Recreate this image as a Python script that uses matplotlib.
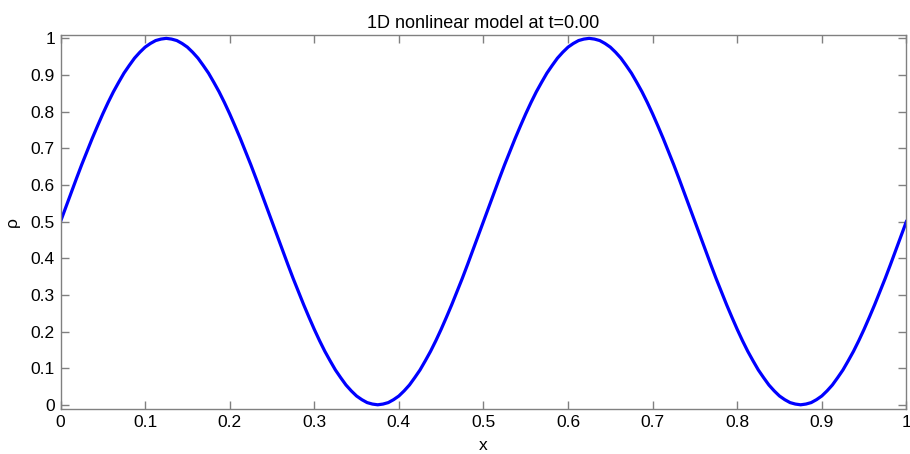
import matplotlib
matplotlib.use('Agg')
import matplotlib.pyplot as plt

matplotlib.rcParams['font.family'] = ['Liberation Sans', 'DejaVu Sans']

# density, x step 0.00625
x_vals = [i * 0.00625 for i in range(161)]
rho = [0.5, 0.539, 0.578, 0.617, 0.655, 0.691, 0.727, 0.761, 0.794, 0.825,
       0.854, 0.880, 0.905, 0.926, 0.946, 0.962, 0.976, 0.986, 0.994, 0.998,
       1.0, 0.998, 0.994, 0.986, 0.976, 0.962, 0.946, 0.926, 0.905, 0.880,
       0.854, 0.825, 0.794, 0.761, 0.727, 0.691, 0.655, 0.617, 0.578, 0.539,
       0.5, 0.461, 0.422, 0.383, 0.345, 0.309, 0.273, 0.239, 0.206, 0.175,
       0.146, 0.120, 0.095, 0.074, 0.054, 0.038, 0.024, 0.014, 0.006, 0.002,
       0.0, 0.002, 0.006, 0.014, 0.024, 0.038, 0.054, 0.074, 0.095, 0.120,
       0.146, 0.175, 0.206, 0.239, 0.273, 0.309, 0.345, 0.383, 0.422, 0.461,
       0.5, 0.539, 0.578, 0.617, 0.655, 0.691, 0.727, 0.761, 0.794, 0.825,
       0.854, 0.880, 0.905, 0.926, 0.946, 0.962, 0.976, 0.986, 0.994, 0.998,
       1.0, 0.998, 0.994, 0.986, 0.976, 0.962, 0.946, 0.926, 0.905, 0.880,
       0.854, 0.825, 0.794, 0.761, 0.727, 0.691, 0.655, 0.617, 0.578, 0.539,
       0.5, 0.461, 0.422, 0.383, 0.345, 0.309, 0.273, 0.239, 0.206, 0.175,
       0.146, 0.120, 0.095, 0.074, 0.054, 0.038, 0.024, 0.014, 0.006, 0.002,
       0.0, 0.002, 0.006, 0.014, 0.024, 0.038, 0.054, 0.074, 0.095, 0.120,
       0.146, 0.175, 0.206, 0.239, 0.273, 0.309, 0.345, 0.383, 0.422, 0.461,
       0.5]
xticks = [0, 0.1, 0.2, 0.3, 0.4, 0.5, 0.6, 0.7, 0.8, 0.9, 1]
yticks = [0, 0.1, 0.2, 0.3, 0.4, 0.5, 0.6, 0.7, 0.8, 0.9, 1]
tick_labels = ['0', '0.1', '0.2', '0.3', '0.4', '0.5', '0.6', '0.7', '0.8', '0.9', '1']

fig = plt.figure(figsize=(9.1, 4.54), dpi=100)
ax = fig.add_axes([0.0665, 0.0991, 0.9295, 0.8245])
ax.plot(x_vals, rho, color='#0000ff', linewidth=2.3)

ax.set_xlim(0, 1)
ax.set_ylim(-0.0115, 1.01)
ax.set_xticks(xticks)
ax.set_xticklabels(tick_labels)
ax.set_yticks(yticks)
ax.set_yticklabels(tick_labels)
ax.tick_params(direction='in', length=6, width=1, color='#808080',
               top=True, right=True, labelsize=12.5, pad=4)
for s in ax.spines.values():
    s.set_color('#808080')
    s.set_linewidth(1)

ax.set_title('1D nonlinear model at t=0.00', fontsize=13, pad=5)
ax.set_xlabel('x', fontsize=12.5, labelpad=6)
ax.set_ylabel('ρ', fontsize=12.5, labelpad=8)

plt.savefig('out.png', dpi=100)
